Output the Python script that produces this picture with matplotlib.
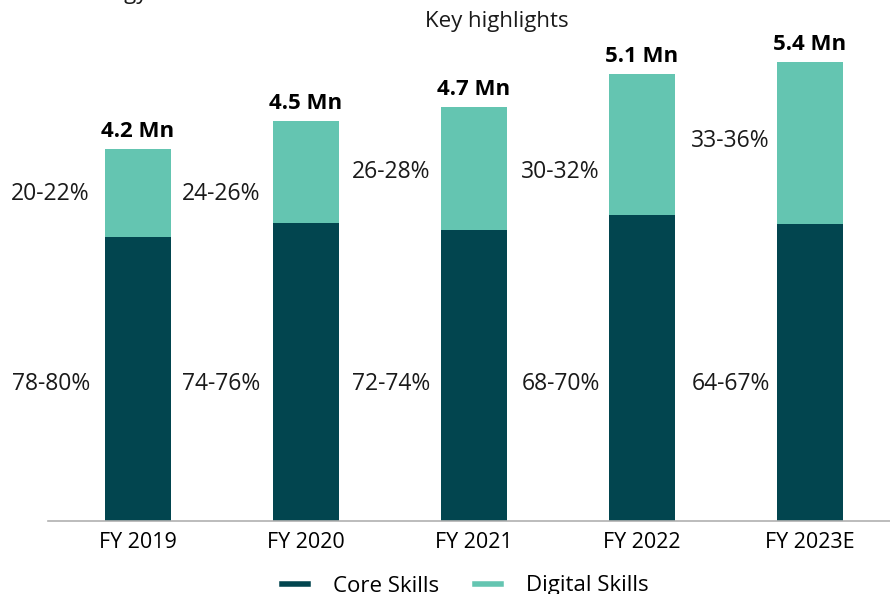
import matplotlib
matplotlib.use("Agg")
import matplotlib.pyplot as plt
from matplotlib.lines import Line2D

plt.rcParams['font.family'] = ['Open Sans', 'DejaVu Sans']

years = ['FY 2019', 'FY 2020', 'FY 2021', 'FY 2022', 'FY 2023E']
core = [3.23, 3.39, 3.31, 3.48, 3.38]
digital = [1.00, 1.15, 1.39, 1.60, 1.84]
totals = ['4.2 Mn', '4.5 Mn', '4.7 Mn', '5.1 Mn', '5.4 Mn']
core_pct = ['78-80%', '74-76%', '72-74%', '68-70%', '64-67%']
digital_pct = ['20-22%', '24-26%', '26-28%', '30-32%', '33-36%']
digital_pct_y = [3.72, 3.72, 3.96, 3.96, 4.32]

dark = '#02454f'
light = '#64c5b1'

fig = plt.figure(figsize=(8.9, 5.94), dpi=100)
ax = fig.add_axes([48/890, 73/594, 842/890, 521/594])

x = list(range(len(years)))
w = 0.393
ax.bar(x, core, width=w, color=dark)
ax.bar(x, digital, width=w, bottom=core, color=light)

for i in x:
    top = core[i] + digital[i]
    lx = i - 0.286 + 0.012 * i
    ax.text(i, top + 0.08, totals[i], ha='center', va='bottom', fontsize=16,
            fontweight='bold', color='black')
    ax.text(lx, 1.56, core_pct[i], ha='right', va='center', fontsize=16.5, color='#1a1a1a')
    ax.text(lx, digital_pct_y[i], digital_pct[i], ha='right', va='center',
            fontsize=16.5, color='#1a1a1a')

ax.set_xlim(-0.536, 4.476)
ax.set_ylim(0, 5.92)
ax.set_xticks(x)
ax.set_xticklabels(years, fontsize=15.5)
ax.tick_params(axis='x', length=0, pad=8)
ax.set_yticks([])
for s in ['top', 'right', 'left']:
    ax.spines[s].set_visible(False)
ax.spines['bottom'].set_color('#b0b0b0')
ax.spines['bottom'].set_linewidth(1.2)

fig.text(497/890, 1 - 22/594, 'Key highlights', ha='center', va='center', fontsize=16, color='#1a1a1a')
fig.text(148/890, 1 + 1/594, 'Technology', ha='right', va='baseline', fontsize=16, color='#1a1a1a')

handles = [Line2D([0], [0], color=dark, lw=4), Line2D([0], [0], color=light, lw=4)]
fig.legend(handles, ['Core Skills', 'Digital Skills'], loc='center', bbox_to_anchor=(465/890, 1 - 586/594),
           ncol=2, frameon=False, fontsize=16, handlelength=1.2, columnspacing=1.6, handletextpad=1.1)

fig.savefig('out.png', dpi=100)
